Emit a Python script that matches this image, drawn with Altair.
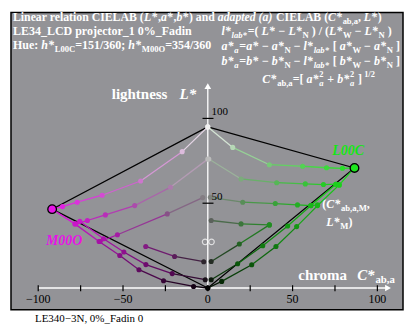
import altair as alt
import pandas as pd

# ---------------- data: (C*ab,a , L*) ----------------
# green hue plane (L00C)
G_ROW0_C = [0.0, 14.7, 36.3, 55.9, 70.0, 79.4, 86.5]
G_ROW0_L = [95.0, 82.9, 72.7, 71.8, 70.9, 70.6, 70.8]
G_ROW1_C = [0.6, 19.6, 40.6, 57.5, 68.2, 75.5, 77.5]
G_ROW1_L = [76.1, 64.3, 62.1, 61.4, 61.0, 61.2, 60.8]
G_ROW2_C = [1.5, 20.6, 39.8, 52.9, 60.8, 64.7]
G_ROW2_L = [53.5, 50.6, 49.8, 49.0, 48.6, 49.0]
G_ROW3_C = [2.0, 19.6, 36.3]
G_ROW3_L = [39.8, 37.8, 37.2]
G_ROW4_C = [2.0, 18.6, 36.3]
G_ROW4_L = [15.6, 25.9, 37.2]
G_EDGEB_C = [2.0, 17.6, 32.4, 47.1, 60.8, 75.5]
G_EDGEB_L = [4.9, 14.3, 24.9, 36.6, 48.6, 61.2]
G_EDGEA_C = [0.0, 8.2, 25.9, 40.2, 52.4, 64.7, 77.5, 86.5]
G_EDGEA_L = [0.0, 3.9, 13.7, 24.5, 36.2, 48.6, 60.8, 70.8]

# magenta hue plane (M00O)
M_ROW0_C = [0.0, -15.1, -39.6, -62.3, -77.0, -85.7, -91.8]
M_ROW0_L = [95.0, 80.4, 63.1, 54.7, 50.6, 48.0, 46.5]
M_ROW1_C = [0.0, -22.0, -43.1, -60.4, -71.0, -77.8]
M_ROW1_L = [76.0, 59.4, 48.6, 43.1, 39.8, 37.8]
M_ROW2_C = [-3.0, -23.9, -53.3, -63.5]
M_ROW2_L = [53.3, 43.7, 31.4, 27.4]
M_ROW3_C = [-2.4, -19.6, -36.6]
M_ROW3_L = [15.5, 18.6, 24.5]
M_EDGEB_C = [-1.5, -21.0, -36.5, -49.5, -61.5, -75.5]
M_EDGEB_L = [4.9, 8.5, 13.8, 21.2, 29.0, 39.3]
M_EDGE_C = [0.0, -8.4, -26.1, -40.6, -51.9, -64.1, -78.4, -91.8]
M_EDGE_L = [0.0, 0.9, 4.3, 10.8, 19.2, 27.4, 37.8, 46.5]

# corners of the colour triangles: W, L00C, N  and  W, M00O, N
OUTLINE_G_C = [0.0, 86.5, 0.0]
OUTLINE_G_L = [95.0, 70.8, 0.0]
OUTLINE_M_C = [0.0, -91.8, 0.0]
OUTLINE_M_L = [95.0, 46.5, 0.0]

# mean markers (hollow circles)
MEAN_C = [-1.6, 2.2]
MEAN_L = [27.2, 27.2]

X_TICKS = [-100, -75, -50, -25, 0, 25, 50, 75, 100]
X_LABELS = [-100, -50, 0, 50, 100]
Y_TICKS = [50, 100]

SERIES = [
    ("g0", "g", G_ROW0_C, G_ROW0_L), ("g1", "g", G_ROW1_C, G_ROW1_L),
    ("g2", "g", G_ROW2_C, G_ROW2_L), ("g3", "g", G_ROW3_C, G_ROW3_L),
    ("g4", "g", G_ROW4_C, G_ROW4_L), ("gb", "g", G_EDGEB_C, G_EDGEB_L),
    ("ga", "g", G_EDGEA_C, G_EDGEA_L),
    ("m0", "m", M_ROW0_C, M_ROW0_L), ("m1", "m", M_ROW1_C, M_ROW1_L),
    ("m2", "m", M_ROW2_C, M_ROW2_L), ("m3", "m", M_ROW3_C, M_ROW3_L),
    ("mb", "m", M_EDGEB_C, M_EDGEB_L), ("ma", "m", M_EDGE_C, M_EDGE_L),
]

# ---------------- geometry of the picture ----------------
PX0, PY0 = 208.3, 288.3      # page pixel of (C=0, L=0)
K = 1.7                      # px per unit
LEFT, TOP, W, H = 11, 12, 393, 298
XDOM = [(LEFT - PX0) / K, (LEFT + W - PX0) / K]
YDOM = [(PY0 - (TOP + H)) / K, (PY0 - TOP) / K]
FONT = "Liberation Serif"


def to_c(px):
    return (px - PX0) / K


def to_l(py):
    return (PY0 - py) / K


# ---------------- colours of the patches (sRGB mixing) ----------------
def l2s(v):
    v = max(0.0, min(1.0, v))
    s = 12.92 * v if v <= 0.0031308 else 1.055 * v ** (1 / 2.4) - 0.055
    return s


def y_of(L):
    return ((L + 16) / 116) ** 3 if L > 8 else L / 903.3


HUES = {"g": ((30, 228, 30), 86.5, 70.8), "m": ((228, 25, 228), 91.8, 46.5)}


def patch_rgb(C, L, hue):
    rgb, ch, lh = HUES[hue]
    Lc = max(L, 0.0)
    cedge = ch * Lc / lh if Lc <= lh else ch * max(95 - Lc, 0) / (95 - lh)
    f = 0.0 if cedge <= 0 else min(1.0, abs(C) / cedge)
    g = l2s(y_of(Lc)) * 255
    if Lc <= lh:
        k = (Lc / lh) ** 0.6
        chrom = [v * k for v in rgb]
    else:
        t = (Lc - lh) / (95 - lh)
        chrom = [v * (1 - t) + 242 * t for v in rgb]
    return [g * (1 - f) + c * f for c in chrom]


def hexc(rgb):
    return "#%02x%02x%02x" % tuple(int(round(max(0, min(255, v)))) for v in rgb)


pts, segs = [], []
for name, hue, cs, ls in SERIES:
    cols = [patch_rgb(c, l, hue) for c, l in zip(cs, ls)]
    for i, (c, l) in enumerate(zip(cs, ls)):
        pts.append(dict(series=name, idx=i, C=c, L=l, pcol=hexc(cols[i])))
        if i + 1 < len(cs):
            mix = [(a + b) / 2 for a, b in zip(cols[i], cols[i + 1])]
            segs.append(dict(C=c, L=l, C2=cs[i + 1], L2=ls[i + 1], lcol=hexc(mix)))
df = pd.DataFrame(pts)
seg_df = pd.DataFrame(segs)

outline = pd.DataFrame(
    [dict(series="g", idx=i, C=c, L=l) for i, (c, l) in enumerate(zip(OUTLINE_G_C, OUTLINE_G_L))]
    + [dict(series="m", idx=i, C=c, L=l) for i, (c, l) in enumerate(zip(OUTLINE_M_C, OUTLINE_M_L))]
)
ends = pd.DataFrame([
    dict(C=OUTLINE_G_C[1], L=OUTLINE_G_L[1], pcol="#1ee61e"),
    dict(C=OUTLINE_M_C[1], L=OUTLINE_M_L[1], pcol="#e614e6"),
])
means = pd.DataFrame(dict(C=MEAN_C, L=MEAN_L))

X = alt.X("C:Q", scale=alt.Scale(domain=XDOM, nice=False, zero=False), axis=None)
Y = alt.Y("L:Q", scale=alt.Scale(domain=YDOM, nice=False, zero=False), axis=None)

# ---------------- axes ----------------
axis_lines = pd.DataFrame([
    dict(C=-100, C2=106, L=0, L2=0),
    dict(C=0, C2=0, L=0, L2=119),
])
axes = alt.Chart(axis_lines).mark_rule(color="white", strokeWidth=1.3).encode(
    x=X, x2="C2:Q", y=Y, y2="L2:Q")
arrows = alt.Chart(pd.DataFrame([
    dict(C=to_c(389), L=0, shape="triangle-right"),
    dict(C=0, L=to_l(86), shape="triangle-up"),
])).mark_point(filled=True, color="white", opacity=1, size=45).encode(
    x=X, y=Y, shape=alt.Shape("shape:N", scale=None))
xt = pd.DataFrame(dict(C=X_TICKS, C2=X_TICKS, L=[to_l(291.5)] * len(X_TICKS),
                       L2=[to_l(285.5)] * len(X_TICKS)))
xticks = alt.Chart(xt).mark_rule(color="black", strokeWidth=1.2).encode(
    x=X, x2="C2:Q", y=Y, y2="L2:Q")
yt = pd.DataFrame(dict(C=[to_c(203)] * 2, C2=[to_c(214)] * 2, L=Y_TICKS, L2=Y_TICKS))
yticks = alt.Chart(yt).mark_rule(color="black", strokeWidth=1.2).encode(
    x=X, x2="C2:Q", y=Y, y2="L2:Q")
xl = pd.DataFrame(dict(C=X_LABELS, L=[to_l(303.5)] * len(X_LABELS),
                       text=[("\u2212" + str(-v)) if v < 0 else str(v) for v in X_LABELS]))
xlabels = alt.Chart(xl).mark_text(font=FONT, fontSize=12, color="black",
                                  align="center", baseline="alphabetic").encode(
    x=X, y=Y, text="text:N")

# ---------------- data layers ----------------
outline_lines = alt.Chart(outline).mark_line(color="black", strokeWidth=1.2).encode(
    x=X, y=Y, detail="series:N", order="idx:Q")
series_lines = alt.Chart(seg_df).mark_rule(strokeWidth=1.3).encode(
    x=X, y=Y, x2="C2:Q", y2="L2:Q", color=alt.Color("lcol:N", scale=None))
series_pts = alt.Chart(df).mark_circle(size=26, opacity=1).encode(
    x=X, y=Y, color=alt.Color("pcol:N", scale=None))
end_pts = alt.Chart(ends).mark_point(filled=True, size=75, stroke="black",
                                     strokeWidth=1.3, opacity=1, shape="circle").encode(
    x=X, y=Y, fill=alt.Fill("pcol:N", scale=None))
mean_pts = alt.Chart(means).mark_point(shape="circle", size=30, color="white",
                                       strokeWidth=1.2, filled=False).encode(x=X, y=Y)

# ---------------- text (rich text laid out segment by segment) ----------------
TB = {' ': 250, '(': 333, ')': 333, '*': 500, '+': 570, ',': 250, '-': 333, '/': 278,
      ':': 333, ';': 333, '=': 570, '[': 333, ']': 333, '_': 500, '%': 1000, '\u2212': 570,
      'A': 722, 'B': 667, 'C': 722, 'D': 722, 'E': 667, 'F': 611, 'H': 778, 'I': 389,
      'L': 667, 'M': 944, 'N': 722, 'O': 778, 'W': 1000, 'a': 500, 'b': 556, 'c': 444,
      'd': 556, 'e': 444, 'g': 500, 'h': 556, 'i': 278, 'j': 333, 'l': 278, 'm': 833,
      'n': 556, 'o': 500, 'p': 556, 'r': 444, 's': 389, 't': 333, 'u': 556}
TBI = {' ': 250, '(': 333, ')': 333, '*': 500, ',': 250, 'C': 667, 'L': 611, 'M': 889,
       'N': 722, 'O': 722, 'W': 889, 'a': 500, 'b': 500, 'd': 500, 'e': 444, 'h': 556,
       'l': 278, 'p': 500, 't': 278, '=': 570}
TR = {' ': 250, ',': 250, '%': 833, '_': 500, '\u2212': 564, 'E': 611, 'F': 556, 'L': 611,
      'N': 722, 'a': 444, 'd': 500, 'i': 278, 'n': 500}

STYLE = {  # code: (weight, italic, table, size factor, baseline shift in px)
    "b": ("bold", "normal", TB, 1.0, 0),
    "bi": ("bold", "italic", TBI, 1.0, 0),
    "bs": ("bold", "normal", TB, 0.72, 3),
    "bis": ("bold", "italic", TBI, 0.72, 3),
    "sup": ("bold", "normal", TB, 0.7, -5.5),
    "supk": ("bold", "normal", TB, 0.7, -5.5),
    "r": ("normal", "normal", TR, 1.0, 0),
}

texts = []


def lay(segs_, x0, y, size, colour):
    x = x0
    prev = x0
    for s, code in segs_:
        weight, ital, table, fac, dy = STYLE[code]
        fs = size * fac
        w = sum(table.get(ch, 500) for ch in s) * fs / 1000
        start = prev if code == "supk" else x
        body = s.strip(" ")
        lead = (len(s) - len(s.lstrip(" "))) * table[" "] * fs / 1000
        if body:
            texts.append(dict(C=to_c(start + lead), L=to_l(y + dy * size / 12),
                              text=body, size=fs, col=colour, grp=weight + "|" + ital))
        if code == "supk":
            x = max(x, start + w)
        else:
            prev = x
            x = x + w + (0.8 if ital == "italic" else 0.0)


WHITE = "#ffffff"
lay([("Linear relation CIELAB (", "b"), ("L*", "bi"), (",", "b"), ("a*", "bi"), (",", "b"),
     ("b*", "bi"), (") and ", "b"), ("adapted (a)", "bi"), (" CIELAB (", "b"), ("C*", "bi"),
     ("ab,a", "bs"), (", ", "b"), ("L*", "bi"), (")", "b")], 13, 21, 11.8, WHITE)
lay([("LE34_LCD projector_1 0%_Fadin", "b")], 13, 34.5, 12, WHITE)
lay([("Hue: ", "b"), ("h*", "bi"), ("L00C", "bs"), ("=151/360; ", "b"), ("h*", "bi"),
     ("M00O", "bs"), ("=354/360", "b")], 13, 48.5, 12, WHITE)
lay([("l*", "bi"), ("lab*", "bis"), ("=( ", "b"), ("L*", "bi"), (" \u2212 ", "b"), ("L*", "bi"),
     ("N", "bs"), (" ) / (", "b"), ("L*", "bi"), ("W", "bs"), (" \u2212 ", "b"), ("L*", "bi"),
     ("N", "bs"), (" )", "b")], 222, 35, 12, WHITE)
for v, yy in (("a", 50), ("b", 65)):
    lay([(v + "*", "bi"), ("a", "bis"), ("=", "b"), (v + "*", "bi"), (" \u2212 ", "b"),
         (v + "*", "bi"), ("N", "bs"), (" \u2212 ", "b"), ("l*", "bi"), ("lab*", "bis"),
         (" [ ", "b"), (v + "*", "bi"), ("W", "bs"), (" \u2212 ", "b"), (v + "*", "bi"),
         ("N", "bs"), (" ]", "b")], 222, yy, 12, WHITE)
lay([("C*", "bi"), ("ab,a", "bs"), ("=[ ", "b"), ("a*", "bi"), ("a", "bis"), ("2", "supk"),
     (" + ", "b"), ("b*", "bi"), ("a", "bis"), ("2", "supk"), (" ]", "b"), (" 1/2", "sup")],
    263, 82.5, 12, WHITE)
lay([("lightness", "b")], 112, 99, 15, WHITE)
lay([("L*", "bi")], 180, 99, 15, WHITE)
lay([("chroma", "b")], 299, 280, 15, WHITE)
lay([("C*", "bi"), ("ab,a", "bs")], 358, 280, 15, WHITE)
lay([("L00C", "bi")], 333, 155, 14, "#14e614")
lay([("M00O", "bi")], 46, 245, 14, "#e614e6")
lay([("(", "b"), ("C*", "bi"), ("ab,a,M", "bs"), (",", "b")], 323, 208, 12, WHITE)
lay([("L*", "bi"), ("M", "bs"), (")", "b")], 327, 226, 12, WHITE)
lay([("100", "r")], 212, 115, 11, "#000000")
lay([("50", "r")], 212, 200, 11, "#000000")
lay([("LE340\u22123N, 0%_Fadin 0", "r")], 35, 322, 11, "#000000")

tdf = pd.DataFrame(texts)
text_layers = []
for grp, sub in tdf.groupby("grp"):
    weight, ital = grp.split("|")
    text_layers.append(
        alt.Chart(sub).mark_text(font=FONT, fontWeight=weight, fontStyle=ital,
                                 align="left", baseline="alphabetic").encode(
            x=X, y=Y, text="text:N", size=alt.Size("size:Q", scale=None),
            color=alt.Color("col:N", scale=None)))

chart = alt.layer(
    axes, arrows, xticks, yticks, xlabels, outline_lines, series_lines, series_pts,
    end_pts, mean_pts, *text_layers
).properties(
    width=W, height=H, autosize=alt.AutoSizeParams(type="none"),
    padding={"left": 3, "top": 4, "right": 4, "bottom": 15},
).configure_view(fill="#939397", stroke="#000000", strokeWidth=1.5)

chart.save("out.html", embed_options={"renderer": "svg", "actions": False})
